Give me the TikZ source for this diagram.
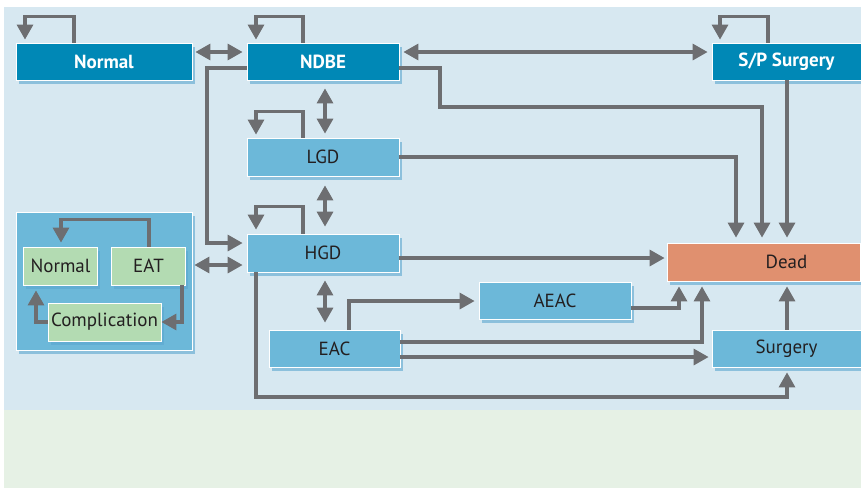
\documentclass[tikz,border=0pt]{standalone}
\usepackage{fontspec}
\setmainfont{PT Sans}
\usetikzlibrary{arrows.meta,shadows}
\definecolor{bgblue}{HTML}{D7E8F1}
\definecolor{bggreen}{HTML}{E6F1E5}
\definecolor{darkblue}{HTML}{0088B6}
\definecolor{lightblue}{HTML}{6CB8D9}
\definecolor{greenbox}{HTML}{B3DBB2}
\definecolor{deadcol}{HTML}{E0906F}
\definecolor{arrgrey}{HTML}{6D6E71}
\definecolor{shadowblue}{HTML}{5AA6CF}
\definecolor{txt}{HTML}{231F20}
\begin{document}
\begin{tikzpicture}[x=1pt,y=-1pt,
  box/.style={draw=white, line width=0.8pt, minimum height=37pt, inner sep=0pt,
    font=\fontsize{19}{22}\selectfont, text=txt,
    drop shadow={shadow xshift=2.5pt, shadow yshift=-3.5pt, fill=shadowblue, opacity=0.6}},
  darkbox/.style={box, fill=darkblue, text=white, font=\fontsize{19}{22}\selectfont\bfseries},
  lightbox/.style={box, fill=lightblue},
  greenb/.style={box, fill=greenbox},
  arr/.style={draw=arrgrey, line width=3.2pt, -{Triangle[width=16pt,length=15pt]}},
  dbl/.style={draw=arrgrey, line width=3.2pt, {Triangle[width=16pt,length=15pt]}-{Triangle[width=16pt,length=15pt]}}
]
\useasboundingbox (0,0) rectangle (861,488);
\fill[white] (0,0) rectangle (861,488);
\fill[bgblue] (4,7) rectangle (861,410);
\fill[bggreen] (4,410) rectangle (861,488);

% nodes
\node[darkbox, minimum width=176pt] (nrm) at (104,61.5) {Normal};
\node[darkbox, minimum width=152pt] (ndbe) at (323,61.5) {NDBE};
\node[darkbox, minimum width=149pt] (sps) at (786.5,61.5) {S/P Surgery};
\node[lightbox, minimum width=152pt, minimum height=38pt] (lgd) at (323,157) {LGD};
\node[lightbox, minimum width=152pt, minimum height=38pt] (hgd) at (323,253) {HGD};
\node[lightbox, minimum width=131pt] (eac) at (334.5,348.5) {EAC};
\node[lightbox, minimum width=152pt] (aeac) at (555,300.5) {AEAC};
\node[lightbox, minimum width=149pt] (surg) at (786.5,348.5) {Surgery};
\node[box, fill=deadcol, minimum width=193pt, minimum height=38pt] (dead) at (763.5,262) {\hspace*{46pt}Dead};
\node[lightbox, minimum width=176pt, minimum height=138pt] (grp) at (104,281) {};
\node[greenb, minimum width=74.5pt, minimum height=38pt] (gn) at (60.5,266) {Normal};
\node[greenb, minimum width=74.5pt, minimum height=38pt] (eat) at (148.5,266) {EAT};
\node[greenb, minimum width=113pt, minimum height=38pt] (comp) at (104.5,322) {Complication};

% self loops
\draw[arr, shorten >=3pt] (nrm.north -| 74,0) -- ++(0,-26) -| (nrm.north -| 25,0);
\draw[arr, shorten >=3pt] (ndbe.north -| 303,0) -- ++(0,-26) -| (ndbe.north -| 256,0);
\draw[arr, shorten >=3pt] (sps.north -| 768,0) -- ++(0,-26) -| (sps.north -| 720,0);
\draw[arr, shorten >=3pt] (lgd.north -| 303,0) -- ++(0,-26) -| (lgd.north -| 256,0);
\draw[arr, shorten >=4pt] (hgd.north -| 303,0) -- ++(0,-27) -| (hgd.north -| 256,0);

% double arrows
\draw[dbl, shorten <=3pt, shorten >=4pt] (nrm.east |- 0,52) -- (ndbe.west |- 0,52);
\draw[dbl, shorten <=4pt, shorten >=4pt] (ndbe.east |- 0,52) -- (sps.west |- 0,52);
\draw[dbl, shorten <=8pt, shorten >=4pt] (ndbe.south -| 325,0) -- (lgd.north -| 325,0);
\draw[dbl, shorten <=9pt, shorten >=7pt] (lgd.south -| 325,0) -- (hgd.north -| 325,0);
\draw[dbl, shorten <=8pt, shorten >=7pt] (hgd.south -| 325,0) -- (eac.north -| 325,0);
\draw[dbl, shorten <=2pt, shorten >=4pt] (grp.east |- 0,265) -- (hgd.west |- 0,265);

% to Dead
\draw[arr, shorten >=5pt] (ndbe.east |- 0,68) -| (440,107) -| (dead.north -| 762,0);
\draw[arr, shorten >=5pt] (sps.south -| 787,0) -- (dead.north -| 787,0);
\draw[arr, shorten >=5pt] (lgd.east |- 0,157) -| (dead.north -| 736,0);
\draw[arr, shorten >=2pt] (hgd.east |- 0,258) -- (dead.west |- 0,258);
\draw[arr, shorten >=5pt] (aeac.east |- 0,308) -| (dead.south -| 679,0);
\draw[arr, shorten >=5pt] (eac.east |- 0,342) -| (dead.south -| 702,0);
\draw[arr, shorten >=5pt] (surg.north -| 787,0) -- (dead.south -| 787,0);

% others
\draw[arr, shorten >=4pt] (ndbe.west |- 0,68) -| (207,243) -- (hgd.west |- 0,243);
\draw[arr, shorten >=5pt] (hgd.south -| 256,0) |- (787,397) -- (surg.south -| 787,0);
\draw[arr, shorten >=4pt] (eac.north -| 349,0) |- (aeac.west |- 0,301);
\draw[arr, shorten >=3pt] (eac.east |- 0,357) -- (surg.west |- 0,357);

% inside group
\draw[arr, shorten >=4pt] (eat.north -| 149,0) -- ++(0,-27) -| (gn.north -| 61,0);
\draw[arr, shorten >=0pt] (eat.south -| 182,0) |- (comp.east |- 0,322);
\draw[arr, shorten >=5pt] (comp.west |- 0,322) -| (gn.south -| 36,0);
\end{tikzpicture}
\end{document}
